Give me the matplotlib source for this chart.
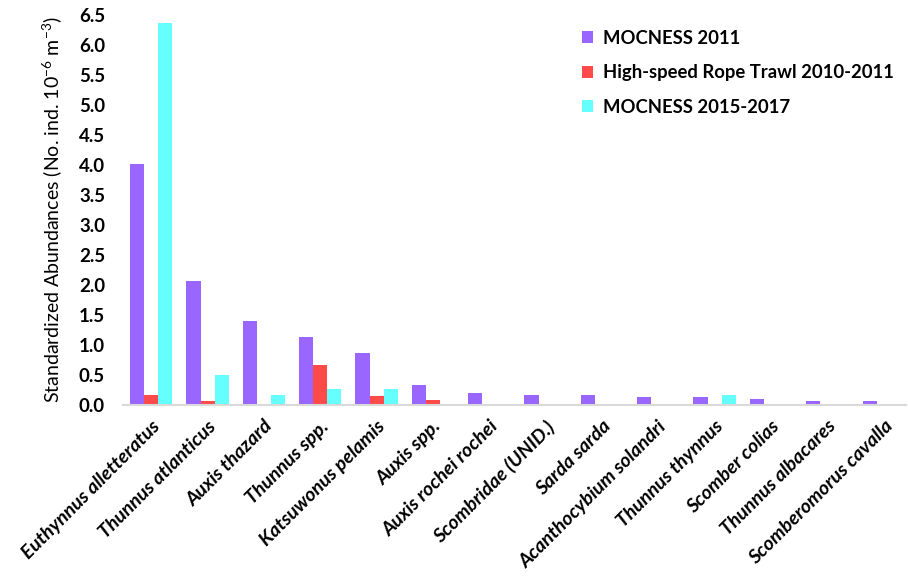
import numpy as np
import matplotlib.pyplot as plt

# Espécies (eixo x)
species = ['Euthynnus alletteratus', 'Thunnus atlanticus', 'Auxis thazard',
           'Thunnus spp.', 'Katsuwonus pelamis', 'Auxis spp.', 'Auxis rochei rochei',
           'Scombridae (UNID.)', 'Sarda sarda', 'Acanthocybium solandri',
           'Thunnus thynnus', 'Scomber colias', 'Thunnus albacares',
           'Scomberomorus cavalla']

# Abundâncias padronizadas por série
mocness_2011 = [4.02, 2.06, 1.40, 1.13, 0.87, 0.34, 0.20, 0.16, 0.16, 0.13, 0.13, 0.10, 0.07, 0.07]
rope_trawl = [0.17, 0.07, 0.0, 0.66, 0.15, 0.09, 0, 0, 0, 0, 0, 0, 0, 0]
mocness_2015 = [6.36, 0.50, 0.17, 0.27, 0.27, 0, 0, 0, 0, 0, 0.16, 0, 0, 0]

series_names = ['MOCNESS 2011', 'High-speed Rope Trawl 2010-2011', 'MOCNESS 2015-2017']
colors = ['#9966FF', '#FF4A4A', '#66FFFF']
yticks = np.arange(0, 6.51, 0.5)

plt.rcParams['font.family'] = ['Lato', 'DejaVu Sans']
plt.rcParams['mathtext.fontset'] = 'custom'
plt.rcParams['mathtext.rm'] = 'Lato'

fig = plt.figure(figsize=(9.08, 5.79), dpi=100)
ax = fig.add_axes([0.1355, 0.3005, 0.8625, 0.6735])

x = np.arange(len(species))
w = 0.25
for i, (vals, name, c) in enumerate(zip([mocness_2011, rope_trawl, mocness_2015], series_names, colors)):
    ax.bar(x + (i - 1) * w, vals, width=w, color=c, label=name)

ax.set_xlim(-0.5, 13.4)
ax.set_ylim(0, 6.5)
ax.set_yticks(yticks)
ax.set_yticklabels([f'{v:.1f}' for v in yticks], fontsize=13.5, fontweight='bold')
ax.set_xticks(x)
ax.set_xticklabels(species, rotation=45, ha='right', va='top', rotation_mode='anchor',
                   fontsize=14, fontweight='bold', fontstyle='italic')
ax.tick_params(axis='both', length=0)
ax.tick_params(axis='x', pad=9)
ax.tick_params(axis='y', pad=13)

for s in ['top', 'right', 'left']:
    ax.spines[s].set_visible(False)
ax.spines['bottom'].set_color('#d9d9d9')
ax.spines['bottom'].set_linewidth(1.5)

ax.set_ylabel('Standardized Abundances (No. ind. 10$^{\\mathrm{-6}}$ m$^{\\mathrm{-3}}$)',
              fontsize=14, labelpad=10)

ax.legend(loc='upper right', bbox_to_anchor=(1.005, 1.005), frameon=False,
          prop={'weight': 'bold', 'size': 13.3}, handlelength=0.6, handleheight=0.6,
          handletextpad=0.5, labelspacing=0.95)

fig.savefig('out.png', dpi=100)
